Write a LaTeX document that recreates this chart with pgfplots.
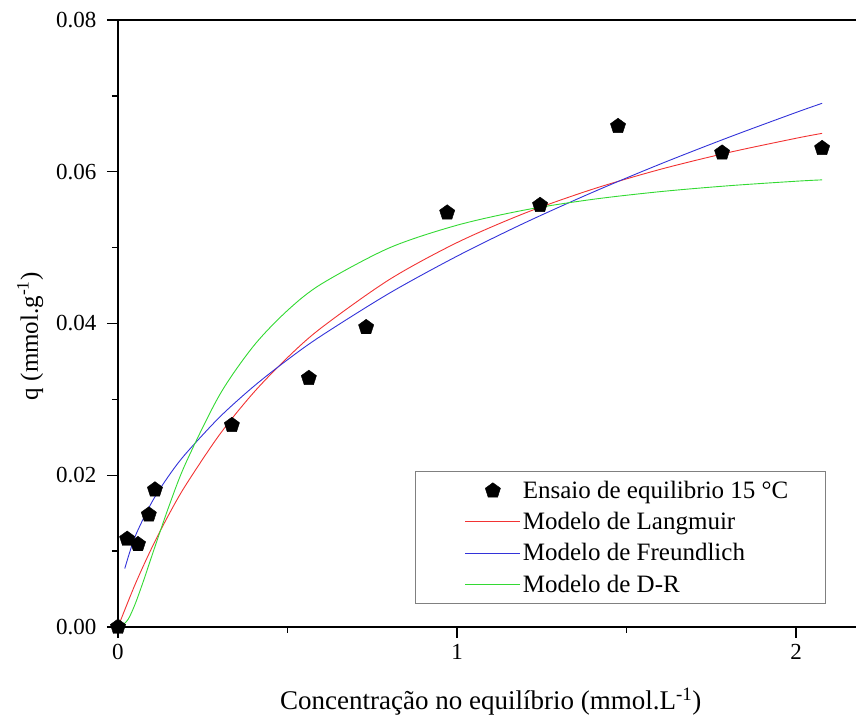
\documentclass[border=0pt]{standalone}
\usepackage{pgfplots}
\pgfplotsset{compat=1.18}
\usepackage{fontspec}
\setmainfont{Liberation Serif}
\usetikzlibrary{calc}
\definecolor{cred}{rgb}{0.95,0.2,0.2}
\definecolor{cblue}{rgb}{0.2,0.2,0.85}
\definecolor{cgreen}{rgb}{0.2,0.85,0.2}
\pgfplotsset{markslegend/.style={legend image code/.code={%
    \path[draw=none,fill=none] (-42pt,0pt) -- (55pt,0pt);
    \draw[##1] plot[only marks] coordinates {(27.5pt,0pt)};}}}
\begin{document}
\begin{tikzpicture}
\begin{axis}[
  name=ax,
  scale only axis, width=738pt, height=607pt,
  xmin=0, xmax=2.177, ymin=0, ymax=0.08,
  axis lines=left, axis line style={-, line width=1.6pt},
  tick align=outside,
  xtick={0,1,2}, ytick={0,0.02,0.04,0.06,0.08},
  minor xtick={0.5,1.5}, minor ytick={0.01,0.03,0.05,0.07},
  major tick length=11pt, minor tick length=6pt,
  every tick/.style={black, line width=1.4pt},
  scaled y ticks=false,
  yticklabel style={/pgf/number format/fixed, /pgf/number format/fixed zerofill, /pgf/number format/precision=2, xshift=-7pt},
  xticklabel style={yshift=-3pt},
  /pgf/number format/assume math mode=true,
  tick label style={font=\fontsize{23}{27}\selectfont},
  xlabel={Concentração no equilíbrio (mmol.L\textsuperscript{-1})},
  ylabel={q (mmol.g\textsuperscript{-1})},
  xlabel style={font=\fontsize{27}{32}\selectfont, at={(axis description cs:0.505,-0.1236)}, anchor=center},
  ylabel style={font=\fontsize{25}{30}\selectfont, at={(axis description cs:-0.119,0.479)}, anchor=center},
  legend style={at={(axis description cs:0.4024,0.0379)}, anchor=south west,
    draw=gray, line width=0.8pt, font=\fontsize{25}{30}\selectfont,
    inner xsep=8pt, inner ysep=8pt, row sep=8.3pt},
  legend cell align=left,
  legend image code/.code={%
    \path[draw=none,fill=none] (-42pt,0pt) -- (0pt,0pt);
    \draw[#1] (0pt,0pt) -- (55pt,0pt);},
]
\addplot[only marks, mark=pentagon*, mark size=8pt, black, line width=0.4pt, markslegend] coordinates {
  (0,0) (0.027,0.0116) (0.059,0.0109) (0.091,0.0148) (0.109,0.0181)
  (0.336,0.0266) (0.563,0.0328) (0.732,0.0395) (0.971,0.0546)
  (1.245,0.0556) (1.475,0.0660) (1.782,0.0625) (2.077,0.0631)
};
\addlegendentry{\makebox[293pt][l]{Ensaio de equilibrio 15 °C}}
\addplot[cred, line width=0.9pt, smooth, no marks] coordinates {
  (0,0) (0.05,0.00556) (0.1,0.01046) (0.15,0.01482) (0.2,0.01871) (0.3,0.02538)
  (0.4,0.03089) (0.5,0.03551) (0.6,0.03944) (0.8,0.04578) (1.0,0.05066)
  (1.2,0.05454) (1.4,0.05770) (1.6,0.06032) (1.8,0.06252) (2.0,0.06441) (2.077,0.06506)
};
\addlegendentry{Modelo de Langmuir}
\addplot[cblue, line width=0.9pt, smooth, no marks] coordinates {
  (0.02,0.00770) (0.05,0.01187) (0.1,0.01646) (0.15,0.01994) (0.2,0.02285) (0.3,0.02767)
  (0.4,0.03170) (0.5,0.03522) (0.6,0.03839) (0.8,0.04398) (1.0,0.04887)
  (1.2,0.05327) (1.4,0.05729) (1.6,0.06102) (1.8,0.06451) (2.0,0.06781) (2.077,0.06902)
};
\addlegendentry{Modelo de Freundlich}
\addplot[cgreen, line width=0.9pt, smooth, no marks] coordinates {
  (0.01,0.00006) (0.03,0.00102) (0.05,0.00296) (0.075,0.00605) (0.1,0.00939)
  (0.15,0.01588) (0.2,0.02161) (0.3,0.03061) (0.4,0.03704) (0.5,0.04172)
  (0.6,0.04521) (0.8,0.04996) (1.0,0.05295) (1.2,0.05496) (1.4,0.05636)
  (1.6,0.05738) (1.8,0.05815) (2.0,0.05875) (2.077,0.05893)
};
\addlegendentry{Modelo de D-R}
\draw[line width=1.6pt] (rel axis cs:0,1) -- (rel axis cs:1,1);
\end{axis}
\pgfresetboundingbox
\path[use as bounding box] ($(ax.south west)+(-118pt,-97pt)$) rectangle ($(ax.north east)+(0pt,20pt)$);
\end{tikzpicture}
\end{document}
